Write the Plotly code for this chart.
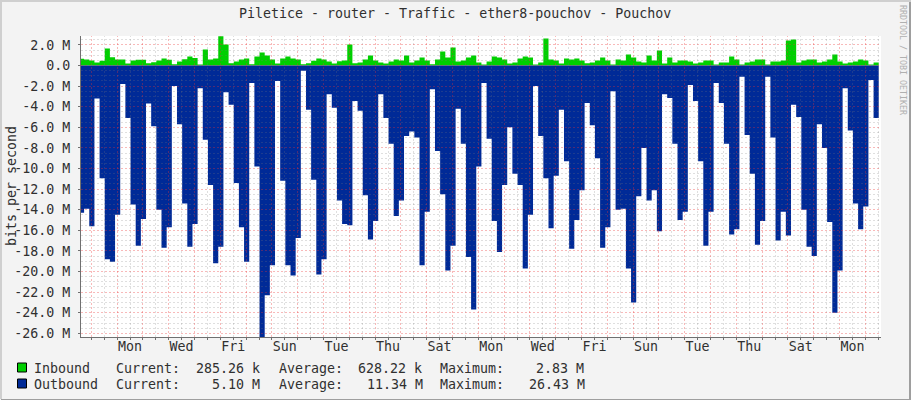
import numpy as np
import plotly.graph_objs as go

# Traffic in Mbit/s, one value per 4.8 hour step
inbound = [0.65, 0.58, 0.49, 0.29, 0.45, 1.65, 0.80, 0.58, 0.58, 0.20, 0.49, 0.55, 0.55, 0.23, 0.32, 0.49,
           0.68, 0.55, 0.13, 0.39, 0.60, 0.87, 0.74, 0.10, 1.55, 0.58, 0.68, 2.83, 2.04, 0.23, 0.39, 0.58,
           0.68, 0.13, 0.87, 1.26, 0.97, 0.58, 0.20, 0.68, 0.87, 0.68, 0.58, 0.13, 0.23, 0.45, 0.68, 0.58,
           0.39, 0.19, 0.42, 0.49, 2.04, 0.23, 0.29, 0.58, 0.97, 0.49, 0.29, 0.19, 0.39, 0.58, 0.49, 0.97,
           0.29, 0.49, 0.78, 0.49, 0.13, 0.58, 1.36, 0.78, 1.75, 0.39, 0.49, 0.78, 0.97, 0.29, 0.10, 0.39,
           0.87, 0.78, 0.58, 0.19, 0.29, 0.68, 0.87, 0.78, 0.10, 0.29, 2.62, 0.58, 0.49, 0.19, 0.68, 0.58,
           0.68, 0.49, 0.23, 0.29, 0.49, 0.78, 0.49, 0.10, 0.58, 0.49, 1.07, 0.78, 0.39, 0.29, 0.97, 0.49,
           1.46, 0.19, 0.78, 0.29, 0.49, 0.49, 0.39, 0.19, 0.29, 0.49, 0.49, 0.10, 0.29, 0.29, 0.87, 0.58,
           0.10, 0.29, 0.39, 0.58, 0.58, 0.10, 0.39, 0.39, 0.49, 2.43, 2.52, 0.29, 0.49, 0.58, 0.58, 0.29,
           0.39, 0.58, 1.07, 0.39, 0.19, 0.29, 0.39, 0.58, 0.49, 0.10, 0.285]
outbound = [14.3, 13.9, 15.6, 3.2, 10.95, 18.8, 19.05, 14.5, 1.8, 5.1, 13.5, 17.5, 14.9, 3.7, 5.9, 14.0,
            17.7, 15.7, 2.0, 5.7, 13.4, 17.6, 15.4, 2.2, 7.2, 11.6, 19.2, 17.6, 2.6, 3.8, 11.4, 15.7,
            19.05, 1.7, 9.8, 26.43, 22.3, 19.4, 1.5, 11.2, 19.4, 20.4, 16.75, 0.5, 4.3, 11.1, 20.3, 18.8,
            2.8, 4.1, 13.1, 15.4, 15.5, 3.45, 4.4, 12.6, 16.9, 15.1, 2.8, 5.1, 7.6, 14.6, 13.1, 6.85,
            6.4, 7.0, 19.4, 14.2, 2.3, 8.3, 12.5, 19.9, 17.5, 4.2, 7.6, 18.6, 23.7, 9.8, 1.7, 7.1,
            15.1, 18.1, 11.6, 6.0, 10.5, 11.6, 19.7, 14.5, 2.0, 6.85, 10.95, 15.8, 10.7, 4.3, 9.3, 17.8,
            15.0, 12.1, 3.65, 5.8, 9.0, 17.7, 15.7, 2.5, 14.0, 13.9, 19.7, 23.0, 12.7, 8.0, 13.1, 12.1,
            16.1, 2.8, 3.15, 7.6, 15.0, 14.2, 1.9, 3.45, 9.3, 17.5, 14.2, 1.7, 3.65, 7.6, 16.4, 15.9,
            1.1, 6.75, 10.5, 17.4, 15.1, 1.1, 7.0, 17.0, 14.2, 16.5, 3.8, 5.0, 14.0, 17.6, 18.5, 5.7,
            8.0, 15.2, 24.0, 19.9, 2.2, 6.3, 13.4, 15.9, 13.7, 1.4, 5.10]

day_labels = ['Mon', 'Wed', 'Fri', 'Sun', 'Tue', 'Thu', 'Sat', 'Mon', 'Wed', 'Fri', 'Sun', 'Tue', 'Thu', 'Sat', 'Mon']
day_hours = [36 + 48 * i for i in range(len(day_labels))]

y_ticks = [2 - 2 * i for i in range(15)]
y_labels = ['0.0' if v == 0 else '%.1f M' % v for v in y_ticks]

legend_rows = [
    ('Inbound', '#00CF00', ['285.26 k', '628.22 k', '2.83 M'], [196, 358, 536], 368.5),
    ('Outbound', '#002A97', ['5.10 M', '11.34 M', '26.43 M'], [212, 367, 529], 384.5),
]
legend_words = ['Current:', 'Average:', 'Maximum:']
legend_word_x = [116, 279, 440]

# pixel box of the plot
W, H = 911, 400
LEFT, RIGHT, TOP, BOTTOM = 81, 881, 36, 337
PX_PER_HOUR = 25.8 / 24
ZERO_PX = 91.3   # midnight, first red line
STEP = 4.8
MONO = 'DejaVu Sans Mono'
TEXT = '#303030'

x_range = [(LEFT - ZERO_PX) / PX_PER_HOUR, (RIGHT - ZERO_PX) / PX_PER_HOUR]
y_range = [-(BOTTOM - 65.5) / 10.3, (65.5 - TOP) / 10.3]


def px(x):
    return (x - LEFT) / (RIGHT - LEFT)


def py(y):
    return (BOTTOM - y) / (BOTTOM - TOP)


def steps(values):
    t = -11.5 + STEP * np.arange(len(values) + 1)
    return t, list(values) + [values[-1]]


def grid_trace(xs, ys, color):
    gx, gy = [], []
    for x in xs:
        gx += [x, x, None]
        gy += [y_range[0], y_range[1], None]
    for y in ys:
        gx += [x_range[0], x_range[1], None]
        gy += [y, y, None]
    return go.Scatter(x=gx, y=gy, mode='lines', hoverinfo='skip', showlegend=False,
                      line=dict(color=color, width=1, dash='2px,2px'))


fig = go.Figure()

t, v = steps(inbound)
fig.add_trace(go.Scatter(x=t, y=v, mode='lines', name='Inbound', fill='tozeroy',
                         fillcolor='#00CF00', line=dict(width=0, shape='hv')))
t, v = steps([-o for o in outbound])
fig.add_trace(go.Scatter(x=t, y=v, mode='lines', name='Outbound', fill='tozeroy',
                         fillcolor='#002A97', line=dict(width=0, shape='hv')))

# rrdtool draws its grid over the data
hour_grid = np.arange(12, x_range[1], 24)
day_grid = np.arange(0, x_range[1], 24)
minor_y = [y / 2 for y in range(-52, 6) if y % 4 != 0]
fig.add_trace(grid_trace(hour_grid, minor_y, 'rgba(120,120,120,0.24)'))
fig.add_trace(grid_trace(day_grid, y_ticks, 'rgba(235,50,50,0.34)'))

# axis arrows
fig.add_trace(go.Scatter(x=[x_range[0]], y=[y_range[1] + 0.35], mode='markers', cliponaxis=False,
                         showlegend=False, hoverinfo='skip',
                         marker=dict(symbol='triangle-up', size=7, color='#7F1F1F')))
fig.add_trace(go.Scatter(x=[x_range[1] + 4.7], y=[y_range[0]], mode='markers', cliponaxis=False,
                         showlegend=False, hoverinfo='skip',
                         marker=dict(symbol='triangle-right', size=7, color='#7F1F1F')))

annotations = [
    dict(text='Piletice - router - Traffic - ether8-pouchov - Pouchov', x=px(455), y=py(14),
         xanchor='center', yanchor='middle', font=dict(size=13.3, color=TEXT)),
    dict(text='bits per second', x=px(11), y=py(186), textangle=-90,
         xanchor='center', yanchor='middle', font=dict(size=13.3, color=TEXT)),
    dict(text='RRDTOOL / TOBI OETIKER', x=px(903), y=py(60), textangle=90,
         xanchor='center', yanchor='middle', font=dict(size=8.3, color='#B0B0B0')),
]
shapes = [
    dict(type='rect', xref='paper', yref='paper', x0=px(1), x1=px(W + 1), y0=py(H - 1), y1=py(H + 1),
         line_width=0, fillcolor='#9E9E9E'),
    dict(type='rect', xref='paper', yref='paper', x0=px(W - 2), x1=px(W), y0=py(0), y1=py(H),
         line_width=0, fillcolor='#9E9E9E'),
    dict(type='rect', xref='paper', yref='paper', x0=px(0), x1=px(W), y0=py(0), y1=py(2),
         line_width=0, fillcolor='#CFCFCF'),
    dict(type='rect', xref='paper', yref='paper', x0=px(0), x1=px(2), y0=py(0), y1=py(H - 1),
         line_width=0, fillcolor='#CFCFCF'),
]

for name, color, values, value_x, row_y in legend_rows:
    shapes.append(dict(type='rect', xref='paper', yref='paper', x0=px(17.5), x1=px(26.5),
                       y0=py(row_y - 5.5), y1=py(row_y + 3.5), fillcolor=color,
                       line=dict(color='#000000', width=1)))
    row = [(name, 34)] + list(zip(legend_words, legend_word_x)) + list(zip(values, value_x))
    for text, x in row:
        annotations.append(dict(text=text, x=px(x), y=py(row_y), xanchor='left', yanchor='middle',
                                xshift=-2, font=dict(size=13.3, color=TEXT)))
for a in annotations:
    a.update(xref='paper', yref='paper', showarrow=False)

fig.update_layout(
    width=W, height=H, autosize=False, showlegend=False,
    margin=dict(l=LEFT, r=W - RIGHT, t=TOP, b=H - BOTTOM, pad=0),
    paper_bgcolor='#F3F3F3', plot_bgcolor='#FFFFFF',
    font=dict(family=MONO, size=13.3, color=TEXT),
    annotations=annotations, shapes=shapes,
    xaxis=dict(range=x_range, tickmode='array', tickvals=day_hours, ticktext=day_labels,
               showgrid=False, zeroline=False, showline=True, linecolor='#707070', linewidth=1,
               ticks='', ticklabelstandoff=-3, tickfont=dict(family=MONO, size=13.3, color=TEXT),
               layer='above traces',
               minor=dict(tick0=0, dtick=12, ticks='outside', ticklen=2, tickcolor='#707070', showgrid=False)),
    yaxis=dict(range=y_range, tickmode='array', tickvals=y_ticks, ticktext=y_labels,
               showgrid=False, zeroline=False, showline=True, linecolor='#707070', linewidth=1,
               ticks='outside', ticklen=2, tickcolor='#707070', ticklabelstandoff=5,
               tickfont=dict(family=MONO, size=13.3, color=TEXT), layer='above traces'),
)

# snap the dotted grid to whole pixels
snap = """document.body.style.margin='0';
document.querySelectorAll('.scatterlayer .js-line').forEach(function (p) {
    p.style.shapeRendering = 'crispEdges';
});"""
fig.write_html("out.html", post_script=snap, config=dict(displayModeBar=False))
